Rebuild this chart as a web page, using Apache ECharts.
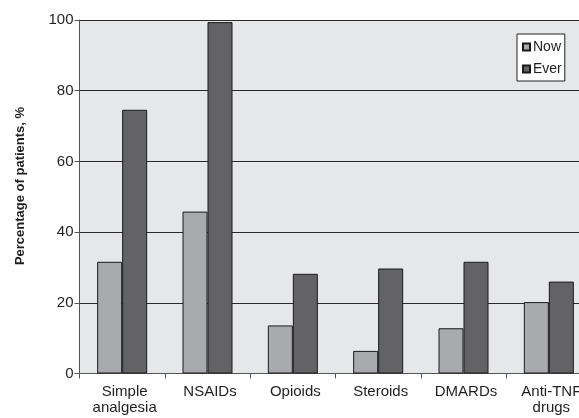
<!DOCTYPE html>
<html>
<head>
<meta charset="utf-8">
<script src="https://cdn.jsdelivr.net/npm/echarts@6/dist/echarts.min.js"></script>
<style>
  html, body { margin: 0; padding: 0; background: #ffffff; }
  #chart { width: 579px; height: 418px; }
</style>
</head>
<body>
<div id="chart"></div>
<script>
// Medication use by class, percentage of patients
const categories = ['Simple\nanalgesia', 'NSAIDs', 'Opioids', 'Steroids', 'DMARDs', 'Anti-TNF\ndrugs'];
const nowValues = [31.6, 45.8, 13.6, 6.4, 12.8, 20.2];
const everValues = [74.6, 99.4, 28.2, 29.7, 31.6, 26.0];
const yTicks = [0, 20, 40, 60, 80, 100];

const FONT = '"Liberation Sans", Arial, Helvetica, sans-serif';
const TEXT = '#1f1f1f';

const chart = echarts.init(document.getElementById('chart'), null, { renderer: 'canvas' });

chart.setOption({
  animation: false,
  backgroundColor: '#ffffff',
  textStyle: { fontFamily: FONT, color: TEXT },
  // plot area runs past the right edge of the canvas
  grid: {
    left: 79.5, top: 20, width: 512, height: 353.5,
    outerBoundsMode: 'none',
    containLabel: false,
    show: true, backgroundColor: '#e6e7e9', borderWidth: 0
  },
  legend: {
    orient: 'vertical',
    left: 517, top: 34,
    backgroundColor: '#ffffff',
    borderColor: '#222222', borderWidth: 1,
    padding: [6, 3, 5, 5],
    itemGap: 8,
    itemWidth: 7, itemHeight: 7,
    icon: 'rect',
    textStyle: { fontFamily: FONT, fontSize: 14, color: TEXT, padding: [0, 0, 0, -2] },
    data: ['Now', 'Ever']
  },
  xAxis: {
    type: 'category',
    data: categories,
    axisLine: { lineStyle: { color: '#555555', width: 1 } },
    axisTick: { show: true, length: 5, lineStyle: { color: '#555555' } },
    axisLabel: {
      fontFamily: FONT, fontSize: 15, color: TEXT, lineHeight: 16,
      margin: 10, interval: 0, padding: [0, 0, 0, 5]
    },
    splitLine: { show: false }
  },
  yAxis: {
    type: 'value',
    min: yTicks[0], max: yTicks[yTicks.length - 1], interval: 20,
    axisLine: { show: true, lineStyle: { color: '#555555', width: 1 } },
    axisTick: { show: true, length: 5, lineStyle: { color: '#555555' } },
    axisLabel: { fontFamily: FONT, fontSize: 15, color: TEXT, margin: 6 },
    splitLine: { show: true, lineStyle: { color: '#2a2a2a', width: 1 } }
  },
  graphic: [{
    type: 'text',
    x: 20, y: 186,
    rotation: Math.PI / 2,
    style: {
      text: 'Percentage of patients, %',
      fontFamily: FONT, fontSize: 13, fontWeight: 'bold', fill: TEXT,
      textAlign: 'center', textVerticalAlign: 'middle'
    }
  }],
  series: [
    {
      name: 'Now', type: 'bar', data: nowValues,
      barWidth: 25, barGap: '0%',
      itemStyle: { color: '#a9aaad', borderColor: '#1a1a1a', borderWidth: 1 }
    },
    {
      name: 'Ever', type: 'bar', data: everValues,
      barWidth: 25, barGap: '0%',
      itemStyle: { color: '#636365', borderColor: '#1a1a1a', borderWidth: 1 }
    }
  ]
});
</script>
</body>
</html>
